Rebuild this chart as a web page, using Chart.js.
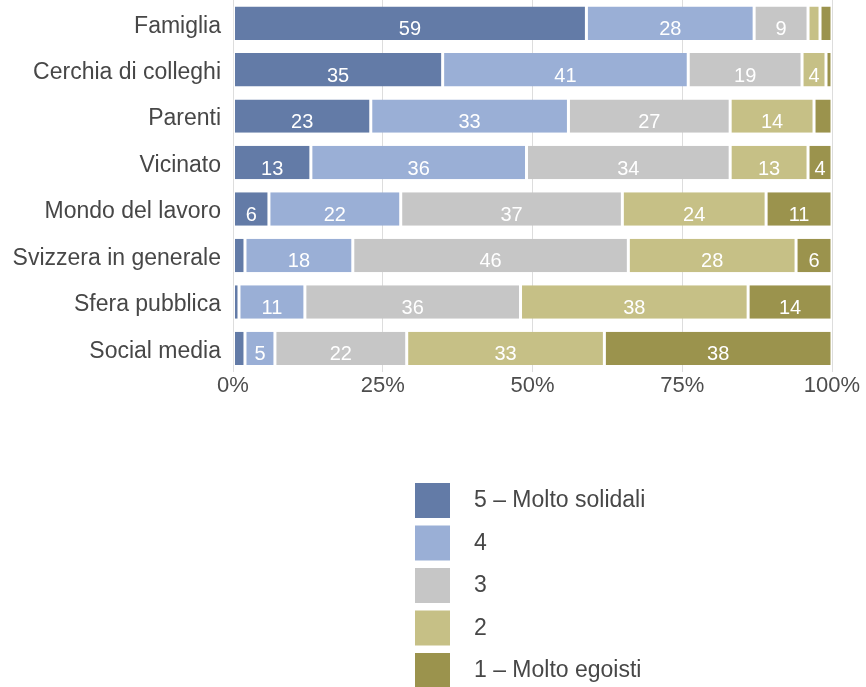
<!DOCTYPE html>
<html>
<head>
<meta charset="utf-8">
<script src="https://cdn.jsdelivr.net/npm/chart.js@4.4.0/dist/chart.umd.min.js"></script>
<style>
  html, body { margin: 0; padding: 0; background: #fff; }
  #wrap { width: 866px; height: 687px; }
</style>
</head>
<body>
<div id="wrap"><canvas id="solid" width="866" height="687"></canvas></div>
<script>
// categories (top to bottom)
var categories = ['Famiglia', 'Cerchia di colleghi', 'Parenti', 'Vicinato',
  'Mondo del lavoro', 'Svizzera in generale', 'Sfera pubblica', 'Social media'];

// percentages per answer
var molto_solidali = [59, 35, 23, 13, 6, 2, 1, 2];
var quattro        = [28, 41, 33, 36, 22, 18, 11, 5];
var tre            = [9, 19, 27, 34, 37, 46, 36, 22];
var due            = [2, 4, 14, 13, 24, 28, 38, 33];
var molto_egoisti  = [2, 1, 3, 4, 11, 6, 14, 38];

var seriesLabels = ['5 – Molto solidali', '4', '3', '2', '1 – Molto egoisti'];
var seriesColors = ['#637ba7', '#9aafd6', '#c6c6c6', '#c6c086', '#9b934d'];
var xTicks = [0, 25, 50, 75, 100];

var txtFont = '"Liberation Sans", Arial, sans-serif';

// white numbers inside segments
var valueLabels = {
  id: 'valueLabels',
  afterDatasetsDraw(chart) {
    var ctx = chart.ctx;
    ctx.save();
    ctx.fillStyle = '#ffffff';
    ctx.font = '20px ' + txtFont;
    ctx.textAlign = 'center';
    ctx.textBaseline = 'alphabetic';
    chart.data.datasets.forEach(function(ds, i) {
      var meta = chart.getDatasetMeta(i);
      meta.data.forEach(function(bar, j) {
        var v = ds.data[j];
        if (v < 4) return;
        var p = bar.getProps(['x', 'y', 'base'], true);
        ctx.fillText(v, (p.x + p.base) / 2, p.y + 12);
      });
    });
    ctx.restore();
  }
};

// vertical legend under the chart
var sideLegend = {
  id: 'sideLegend',
  afterDraw(chart) {
    var ctx = chart.ctx;
    ctx.save();
    ctx.font = '23px ' + txtFont;
    ctx.textBaseline = 'middle';
    ctx.textAlign = 'left';
    seriesLabels.forEach(function(lab, i) {
      var y = 483 + i * 42.5;
      ctx.fillStyle = seriesColors[i];
      ctx.fillRect(415, y, 35, 35);
      ctx.fillStyle = '#474747';
      ctx.fillText(lab, 474, y + 18);
    });
    ctx.restore();
  }
};

var datasets = [molto_solidali, quattro, tre, due, molto_egoisti].map(function(arr, i) {
  return {
    label: seriesLabels[i],
    data: arr,
    backgroundColor: seriesColors[i],
    borderColor: '#ffffff',
    borderWidth: { left: 1.5, right: 1.5, top: 0, bottom: 0 },
    borderSkipped: false,
    barPercentage: 0.72,
    categoryPercentage: 1
  };
});

var ctx = document.getElementById('solid').getContext('2d');
var chart = new Chart(ctx, {
  type: 'bar',
  data: { labels: categories, datasets: datasets },
  options: {
    indexAxis: 'y',
    responsive: false,
    animation: false,
    layout: { padding: { top: 0, right: 34, bottom: 287, left: 0 } },
    plugins: {
      legend: { display: false },
      tooltip: { enabled: false }
    },
    scales: {
      x: {
        stacked: true,
        min: 0,
        max: 100,
        afterBuildTicks: function(scale) {
          scale.ticks = xTicks.map(function(v) { return { value: v }; });
        },
        afterFit: function(scale) { scale.paddingLeft = 0; scale.paddingRight = 0; },
        ticks: {
          callback: function(v) { return v + '%'; },
          font: { family: txtFont, size: 22 },
          color: '#4d4d4d',
          padding: 1,
          maxRotation: 0
        },
        grid: { color: '#dddddd', drawTicks: false },
        border: { display: false }
      },
      y: {
        stacked: true,
        afterFit: function(scale) {
          scale.width = 233;
          scale.paddingTop = 0;
          scale.paddingBottom = 0;
        },
        ticks: {
          font: { family: txtFont, size: 23 },
          color: '#474747',
          padding: 4,
          labelOffset: 3
        },
        grid: { display: false },
        border: { display: false }
      }
    }
  },
  plugins: [valueLabels, sideLegend]
});
</script>
</body>
</html>
